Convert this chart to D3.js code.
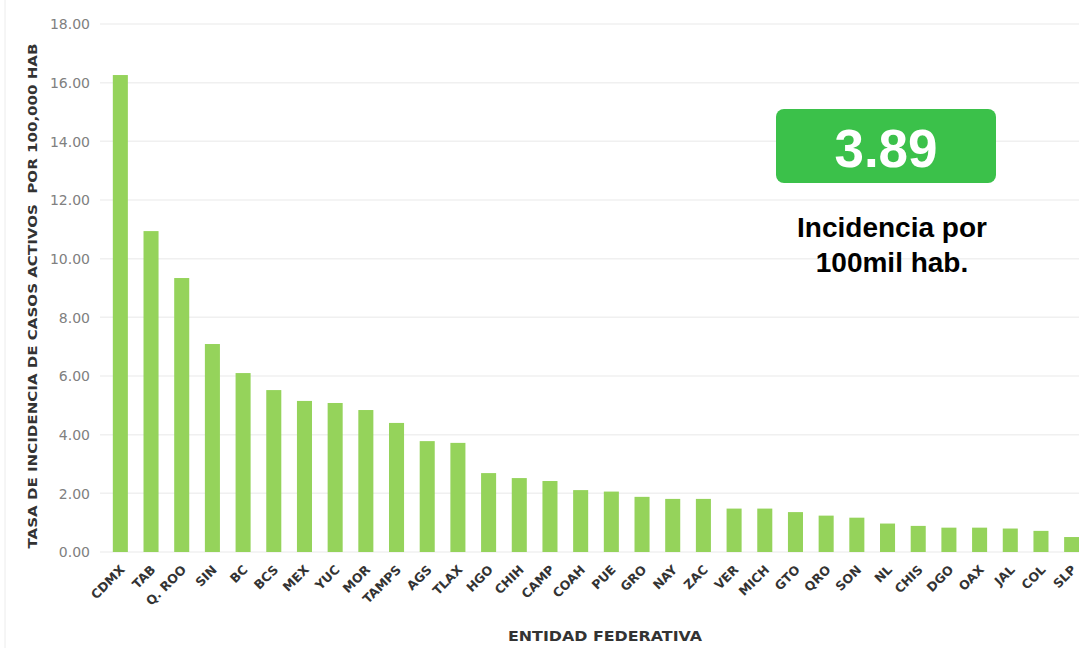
<!DOCTYPE html>
<html>
<head>
<meta charset="utf-8">
<script src="https://cdn.jsdelivr.net/npm/d3@7"></script>
<style>
  body { margin: 0; background: #fff; }
  svg { display: block; }
</style>
</head>
<body>
<div id="chart"></div>
<script>
// Estados (orden del grafico)
const states = ["CDMX", "TAB", "Q. ROO", "SIN", "BC", "BCS", "MEX", "YUC", "MOR", "TAMPS",
  "AGS", "TLAX", "HGO", "CHIH", "CAMP", "COAH", "PUE", "GRO", "NAY", "ZAC",
  "VER", "MICH", "GTO", "QRO", "SON", "NL", "CHIS", "DGO", "OAX", "JAL", "COL", "SLP"];

// Tasa de incidencia por 100,000 hab
const rates = [16.26, 10.94, 9.34, 7.09, 6.10, 5.52, 5.15, 5.08, 4.84, 4.40,
  3.78, 3.72, 2.69, 2.52, 2.42, 2.11, 2.06, 1.88, 1.81, 1.81,
  1.48, 1.48, 1.36, 1.24, 1.17, 0.97, 0.89, 0.83, 0.83, 0.80, 0.72, 0.51];

const yTicks = [0, 2, 4, 6, 8, 10, 12, 14, 16, 18];
const nationalRate = "3.89";

const width = 1079, height = 648;
const margin = { left: 105, right: -8, top: 24, bottom: 96 };

const svg = d3.select("#chart").append("svg")
  .attr("width", width)
  .attr("height", height);

// faint frame line on the left
svg.append("line")
  .attr("x1", 5).attr("x2", 5)
  .attr("y1", 0).attr("y2", height)
  .attr("stroke", "#ececec");

const x = d3.scaleBand()
  .domain(states)
  .range([margin.left, width - margin.right])
  .paddingInner(0.51)
  .paddingOuter(0.255);

const y = d3.scaleLinear()
  .domain([0, 18])
  .range([height - margin.bottom, margin.top]);

// gridlines
svg.append("g")
  .selectAll("line")
  .data(yTicks)
  .join("line")
  .attr("x1", 100)
  .attr("x2", width)
  .attr("y1", d => y(d))
  .attr("y2", d => y(d))
  .attr("stroke", "#f0f0f0")
  .attr("stroke-width", 1.5);

// y axis labels
const yAxis = svg.append("g")
  .attr("transform", `translate(90,0)`)
  .call(d3.axisLeft(y).tickValues(yTicks).tickFormat(d3.format(".2f")).tickSize(0).tickPadding(0));
yAxis.select(".domain").remove();
yAxis.selectAll("text")
  .attr("font-family", "'DejaVu Sans', sans-serif")
  .attr("font-size", "14px")
  .attr("fill", "#808080")
  .attr("dy", "0.35em");

// bars
svg.append("g")
  .selectAll("rect")
  .data(states)
  .join("rect")
  .attr("x", d => x(d))
  .attr("width", x.bandwidth())
  .attr("y", (d, i) => y(rates[i]))
  .attr("height", (d, i) => y(0) - y(rates[i]))
  .attr("fill", "#95d35b");

// x axis labels
const xAxis = svg.append("g")
  .attr("transform", `translate(0,${y(0) + 15})`)
  .call(d3.axisBottom(x).tickSize(0).tickPadding(0));
xAxis.select(".domain").remove();
xAxis.selectAll("text")
  .attr("font-family", "'DejaVu Sans', sans-serif")
  .attr("font-weight", "bold")
  .attr("font-size", "12.5px")
  .attr("fill", "#333")
  .attr("text-anchor", "end")
  .attr("dy", "0.5em")
  .attr("dx", "0.1em")
  .attr("transform", "rotate(-45)");

// axis titles
svg.append("text")
  .attr("transform", `translate(37,${(y(0) + y(18)) / 2 + 8}) rotate(-90)`)
  .attr("text-anchor", "middle")
  .attr("font-family", "'DejaVu Sans', sans-serif")
  .attr("font-weight", "bold")
  .attr("font-size", "12px")
  .attr("fill", "#333")
  .attr("textLength", 505)
  .attr("lengthAdjust", "spacingAndGlyphs")
  .attr("xml:space", "preserve")
  .text("TASA DE INCIDENCIA DE CASOS ACTIVOS  POR 100,000 HAB");

svg.append("text")
  .attr("x", 605)
  .attr("y", 641)
  .attr("text-anchor", "middle")
  .attr("font-family", "'DejaVu Sans', sans-serif")
  .attr("font-weight", "bold")
  .attr("font-size", "14px")
  .attr("fill", "#333")
  .attr("textLength", 194)
  .attr("lengthAdjust", "spacingAndGlyphs")
  .text("ENTIDAD FEDERATIVA");

// national indicator box
svg.append("rect")
  .attr("x", 776).attr("y", 109)
  .attr("width", 220).attr("height", 74)
  .attr("rx", 8)
  .attr("fill", "#3bc14a");

svg.append("text")
  .attr("x", 886).attr("y", 167)
  .attr("text-anchor", "middle")
  .attr("font-family", "'Liberation Sans', Arial, sans-serif")
  .attr("font-weight", "bold")
  .attr("font-size", "53px")
  .attr("fill", "#fff")
  .text(nationalRate);

const note = svg.append("text")
  .attr("text-anchor", "middle")
  .attr("font-family", "'Liberation Sans', Arial, sans-serif")
  .attr("font-weight", "bold")
  .attr("font-size", "28px")
  .attr("fill", "#000");
note.append("tspan").attr("x", 892).attr("y", 237).text("Incidencia por");
note.append("tspan").attr("x", 892).attr("y", 272).text("100mil hab.");
</script>
</body>
</html>
